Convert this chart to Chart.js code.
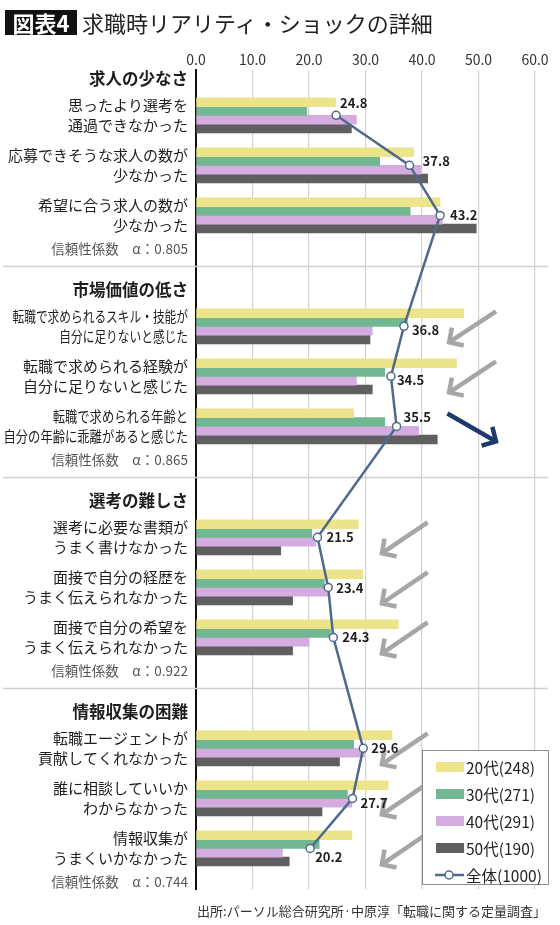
<!DOCTYPE html>
<html lang="ja">
<head>
<meta charset="utf-8">
<title>求職時リアリティ・ショックの詳細</title>
<script src="https://cdn.jsdelivr.net/npm/chart.js@4.4.1/dist/chart.umd.min.js"></script>
<style>
    html, body { margin: 0; padding: 0; background: #fff; }
    body { width: 560px; height: 925px; position: relative; overflow: hidden;
           font-family: "Noto Sans CJK JP", "Noto Sans", sans-serif; color: #222; }
    #grafico { position: absolute; left: 0; top: 0; }
    #badge { position: absolute; left: 5px; top: 10px; width: 72px; height: 25px; background: #111; color: #fff;
             font-size: 22px; font-weight: 700; line-height: 25px; text-align: center; }
    #titulo { position: absolute; left: 82px; top: 6px; font-size: 22px; line-height: 32px; color: #222; white-space: nowrap; }
    #leyenda { position: absolute; left: 422px; top: 750px; width: 125px; height: 133px; background: #fff;
               border: 1px solid #8c8c8c; }
    .item { position: absolute; left: 0; height: 27px; display: flex; align-items: center; font-size: 15.5px;
            color: #222; white-space: nowrap; }
    .muestra { display: inline-block; width: 28px; height: 10px; margin-left: 13px; margin-right: 2px; }
    .linea { margin-left: 12px; margin-right: 2px; }
    #fuente { position: absolute; right: 14px; top: 901px; font-size: 13px; color: #333; white-space: nowrap; }
</style>
</head>
<body>
<canvas id="grafico" width="560" height="925"></canvas>
<div id="badge">図表4</div>
<div id="titulo">求職時リアリティ・ショックの詳細</div>
<div id="leyenda"></div>
<div id="fuente">出所:パーソル総合研究所·中原淳「転職に関する定量調査」</div>
<script>
const groupNames = ['求人の少なさ', '市場価値の低さ', '選考の難しさ', '情報収集の困難'];
const itemLabels = [
    ['思ったより選考を', '通過できなかった'],
    ['応募できそうな求人の数が', '少なかった'],
    ['希望に合う求人の数が', '少なかった'],
    ['転職で求められるスキル・技能が', '自分に足りないと感じた'],
    ['転職で求められる経験が', '自分に足りないと感じた'],
    ['転職で求められる年齢と', '自分の年齢に乖離があると感じた'],
    ['選考に必要な書類が', 'うまく書けなかった'],
    ['面接で自分の経歴を', 'うまく伝えられなかった'],
    ['面接で自分の希望を', 'うまく伝えられなかった'],
    ['転職エージェントが', '貢献してくれなかった'],
    ['誰に相談していいか', 'わからなかった'],
    ['情報収集が', 'うまくいかなかった']
];
const alphaValues = ['0.805', '0.865', '0.922', '0.744'];
const seriesNames = ['20代(248)', '30代(271)', '40代(291)', '50代(190)', '全体(1000)'];

const age20 = [24.7, 38.5, 43.2, 47.4, 46.1, 27.9, 28.7, 29.5, 35.8, 34.7, 34.0, 27.6];
const age30 = [19.6, 32.5, 37.9, 37.4, 33.4, 33.4, 20.5, 22.7, 23.8, 27.9, 26.8, 21.8];
const age40 = [28.4, 39.8, 43.6, 31.2, 28.4, 39.4, 21.2, 23.4, 20.0, 29.8, 27.6, 15.3];
const age50 = [27.5, 41.0, 49.6, 30.8, 31.2, 42.7, 15.0, 17.1, 17.1, 25.4, 22.3, 16.5];
const overall = [24.8, 37.8, 43.2, 36.8, 34.5, 35.5, 21.5, 23.4, 24.3, 29.6, 27.7, 20.2];

const xMin = 0, xMax = 60, xStep = 10;

// items whose label the original squeezes horizontally (item index: squeeze factor)
const narrowItems = { 3: 0.78, 5: 0.82 };

// arrows drawn beside some items (value axis units)
const arrows = [
    { item: 3, from: 53.1, to: 44.8, color: '#a6a6a6' },
    { item: 4, from: 53.1, to: 44.8, color: '#a6a6a6' },
    { item: 5, from: 44.5, to: 53.1, color: '#1d3a6b' },
    { item: 6, from: 41.0, to: 32.9, color: '#a6a6a6' },
    { item: 7, from: 41.0, to: 32.9, color: '#a6a6a6' },
    { item: 8, from: 41.0, to: 32.9, color: '#a6a6a6' },
    { item: 9, from: 41.0, to: 32.9, color: '#a6a6a6' },
    { item: 10, from: 41.0, to: 32.9, color: '#a6a6a6' },
    { item: 11, from: 41.0, to: 32.9, color: '#a6a6a6' }
];

// small shifts of the value labels of the line, in px
const labelNudge = [[4, -12], [13, -4], [10, 0], [8, 4], [6, 4], [7, -9],
                    [9, 0], [8, 1], [9, 0], [8, 0], [8, 5], [5, 9]];

// rows of the y axis, measured in item steps
const HEAD_GAP = 0.725, ALPHA_GAP = 0.66, GROUP_STEP = 4.215, SEP_GAP = 0.36;
const rows = [];
const itemPos = [];
const sepPos = [];
groupNames.forEach((name, g) => {
    const base = g * GROUP_STEP;
    rows.push({ pos: base, kind: 'head', text: name });
    for (let i = 0; i < 3; i++) {
        const k = g * 3 + i;
        const pos = base + HEAD_GAP + i;
        itemPos.push(pos);
        // squeezed labels are drawn by the plugin below
        rows.push({ pos: pos, kind: 'item', text: narrowItems[k] ? '' : itemLabels[k], k: k });
    }
    const aPos = base + HEAD_GAP + 2 + ALPHA_GAP;
    rows.push({ pos: aPos, kind: 'alpha', text: '信頼性係数　α：' + alphaValues[g] });
    if (g < groupNames.length - 1) sepPos.push(aPos + SEP_GAP);
});
const yMin = -0.18;
const yMax = rows[rows.length - 1].pos + 0.15;

const FAMILY = "'Noto Sans CJK JP', 'Noto Sans', sans-serif";

const decorations = {
    id: 'decorations',
    beforeDatasetsDraw(chart) {
        const ctx = chart.ctx;
        const y = chart.scales.y;
        ctx.save();
        ctx.strokeStyle = '#d0d0d0';
        ctx.lineWidth = 1.5;
        sepPos.forEach(p => {
            const py = y.getPixelForValue(p);
            ctx.beginPath();
            ctx.moveTo(3, py);
            ctx.lineTo(chart.width - 12, py);
            ctx.stroke();
        });
        ctx.restore();
    },
    afterDatasetsDraw(chart) {
        const ctx = chart.ctx;
        const x = chart.scales.x;
        const y = chart.scales.y;
        ctx.save();
        // arrows
        arrows.forEach(a => {
            const cy = y.getPixelForValue(itemPos[a.item]);
            const down = a.to < a.from;
            const x0 = x.getPixelForValue(a.from), x1 = x.getPixelForValue(a.to);
            const y0 = cy + (down ? -15 : -13), y1 = cy + (down ? 16 : 15);
            const ang = Math.atan2(y1 - y0, x1 - x0);
            ctx.strokeStyle = a.color;
            ctx.lineWidth = 4.5;
            ctx.lineCap = 'butt';
            ctx.lineJoin = 'miter';
            ctx.beginPath();
            ctx.moveTo(x0, y0);
            ctx.lineTo(x1 - 2 * Math.cos(ang), y1 - 2 * Math.sin(ang));
            ctx.stroke();
            ctx.beginPath();
            ctx.moveTo(x1 - 15 * Math.cos(ang - 0.8), y1 - 15 * Math.sin(ang - 0.8));
            ctx.lineTo(x1, y1);
            ctx.lineTo(x1 - 15 * Math.cos(ang + 0.8), y1 - 15 * Math.sin(ang + 0.8));
            ctx.stroke();
        });
        // value labels of the overall line
        const meta = chart.getDatasetMeta(4);
        ctx.fillStyle = '#1e1e1e';
        ctx.font = '600 13px ' + FAMILY;
        ctx.textAlign = 'left';
        ctx.textBaseline = 'middle';
        meta.data.forEach((pt, i) => {
            const n = labelNudge[i];
            ctx.fillText(overall[i].toFixed(1), pt.x + n[0], pt.y + n[1]);
        });
        ctx.restore();
    },
    afterDraw(chart) {
        // the two long labels, squeezed like in the original
        const ctx = chart.ctx;
        const y = chart.scales.y;
        const right = y.right - 8;
        ctx.save();
        ctx.fillStyle = '#1e1e1e';
        ctx.font = '15px ' + FAMILY;
        ctx.textAlign = 'right';
        ctx.textBaseline = 'middle';
        Object.keys(narrowItems).forEach(k => {
            const cy = y.getPixelForValue(itemPos[k]);
            itemLabels[k].forEach((line, j) => {
                ctx.save();
                ctx.translate(right, cy + (j - 0.5) * 20);
                ctx.scale(narrowItems[k], 1);
                ctx.fillText(line, 0, 0);
                ctx.restore();
            });
        });
        ctx.restore();
    }
};

function buildLegend(datasets) {
    const box = document.getElementById('leyenda');
    datasets.forEach((ds, i) => {
        const row = document.createElement('div');
        row.className = 'item';
        row.style.top = (2 + i * 27) + 'px';
        if (ds.type === 'bar') {
            row.innerHTML = `<span class="muestra" style="background:${ds.backgroundColor}"></span><span>${ds.label}</span>`;
        } else {
            row.innerHTML = `<svg class="linea" width="29" height="12"><line x1="0" y1="6" x2="29" y2="6" stroke="${ds.borderColor}" stroke-width="2.5"/>` +
                `<circle cx="14" cy="6" r="4" fill="#fff" stroke="${ds.borderColor}" stroke-width="1.5"/></svg><span>${ds.label}</span>`;
        }
        box.appendChild(row);
    });
}

document.addEventListener('DOMContentLoaded', function () {
    Chart.defaults.font.family = FAMILY;
    const ctx = document.getElementById('grafico').getContext('2d');
    const barColors = ['#ebe48a', '#70b792', '#d5acdf', '#615e61'];
    const barSeries = [age20, age30, age40, age50];

    const datasets = barSeries.map((values, s) => ({
        type: 'bar',
        label: seriesNames[s],
        data: values.map((v, i) => ({ x: v, y: itemPos[i] })),
        backgroundColor: barColors[s],
        barThickness: 8.75,
        order: 1
    }));
    datasets.push({
        type: 'line',
        label: seriesNames[4],
        indexAxis: 'y',
        data: overall.map((v, i) => ({ x: v, y: itemPos[i] })),
        borderColor: '#506a8b',
        borderWidth: 2.5,
        pointRadius: 4,
        pointBackgroundColor: '#fff',
        pointBorderColor: '#506a8b',
        pointBorderWidth: 1.5,
        order: 0
    });

    new Chart(ctx, {
        type: 'bar',
        data: { datasets: datasets },
        options: {
            indexAxis: 'y',
            responsive: false,
            animation: false,
            layout: { padding: { top: 45, right: 25, bottom: 36, left: 0 } },
            plugins: { legend: { display: false }, tooltip: { enabled: false } },
            scales: {
                x: {
                    type: 'linear',
                    position: 'top',
                    min: xMin,
                    max: xMax,
                    afterFit: (scale) => { scale.height = 25; },
                    ticks: {
                        stepSize: xStep,
                        callback: (v) => v.toFixed(1),
                        font: { size: 14 },
                        color: '#333',
                        padding: 2
                    },
                    grid: {
                        color: (c) => c.tick && c.tick.value === 0 ? 'rgba(0,0,0,0)' : '#d3d3d3',
                        lineWidth: 1.2,
                        drawTicks: false
                    },
                    border: { display: false }
                },
                y: {
                    type: 'linear',
                    reverse: true,
                    offset: false,
                    min: yMin,
                    max: yMax,
                    afterFit: (scale) => { scale.width = 196; },
                    afterBuildTicks: (axis) => { axis.ticks = rows.map(r => ({ value: r.pos })); },
                    ticks: {
                        autoSkip: false,
                        padding: 8,
                        callback: (v, i) => rows[i] ? rows[i].text : '',
                        font: (c) => {
                            const r = rows[c.index];
                            if (!r || r.kind === 'item') return { family: FAMILY, size: 15, lineHeight: '20px' };
                            if (r.kind === 'head') return { family: FAMILY, size: 16.5, weight: 'bold', lineHeight: 1.2 };
                            return { family: FAMILY, size: 13.5, lineHeight: 1.2 };
                        },
                        color: (c) => {
                            const r = rows[c.index];
                            if (r && r.kind === 'alpha') return '#555';
                            return '#1e1e1e';
                        }
                    },
                    grid: { display: false, drawTicks: false },
                    border: { color: '#111', width: 2 }
                }
            }
        },
        plugins: [decorations]
    });

    buildLegend(datasets);
});
</script>
</body>
</html>
